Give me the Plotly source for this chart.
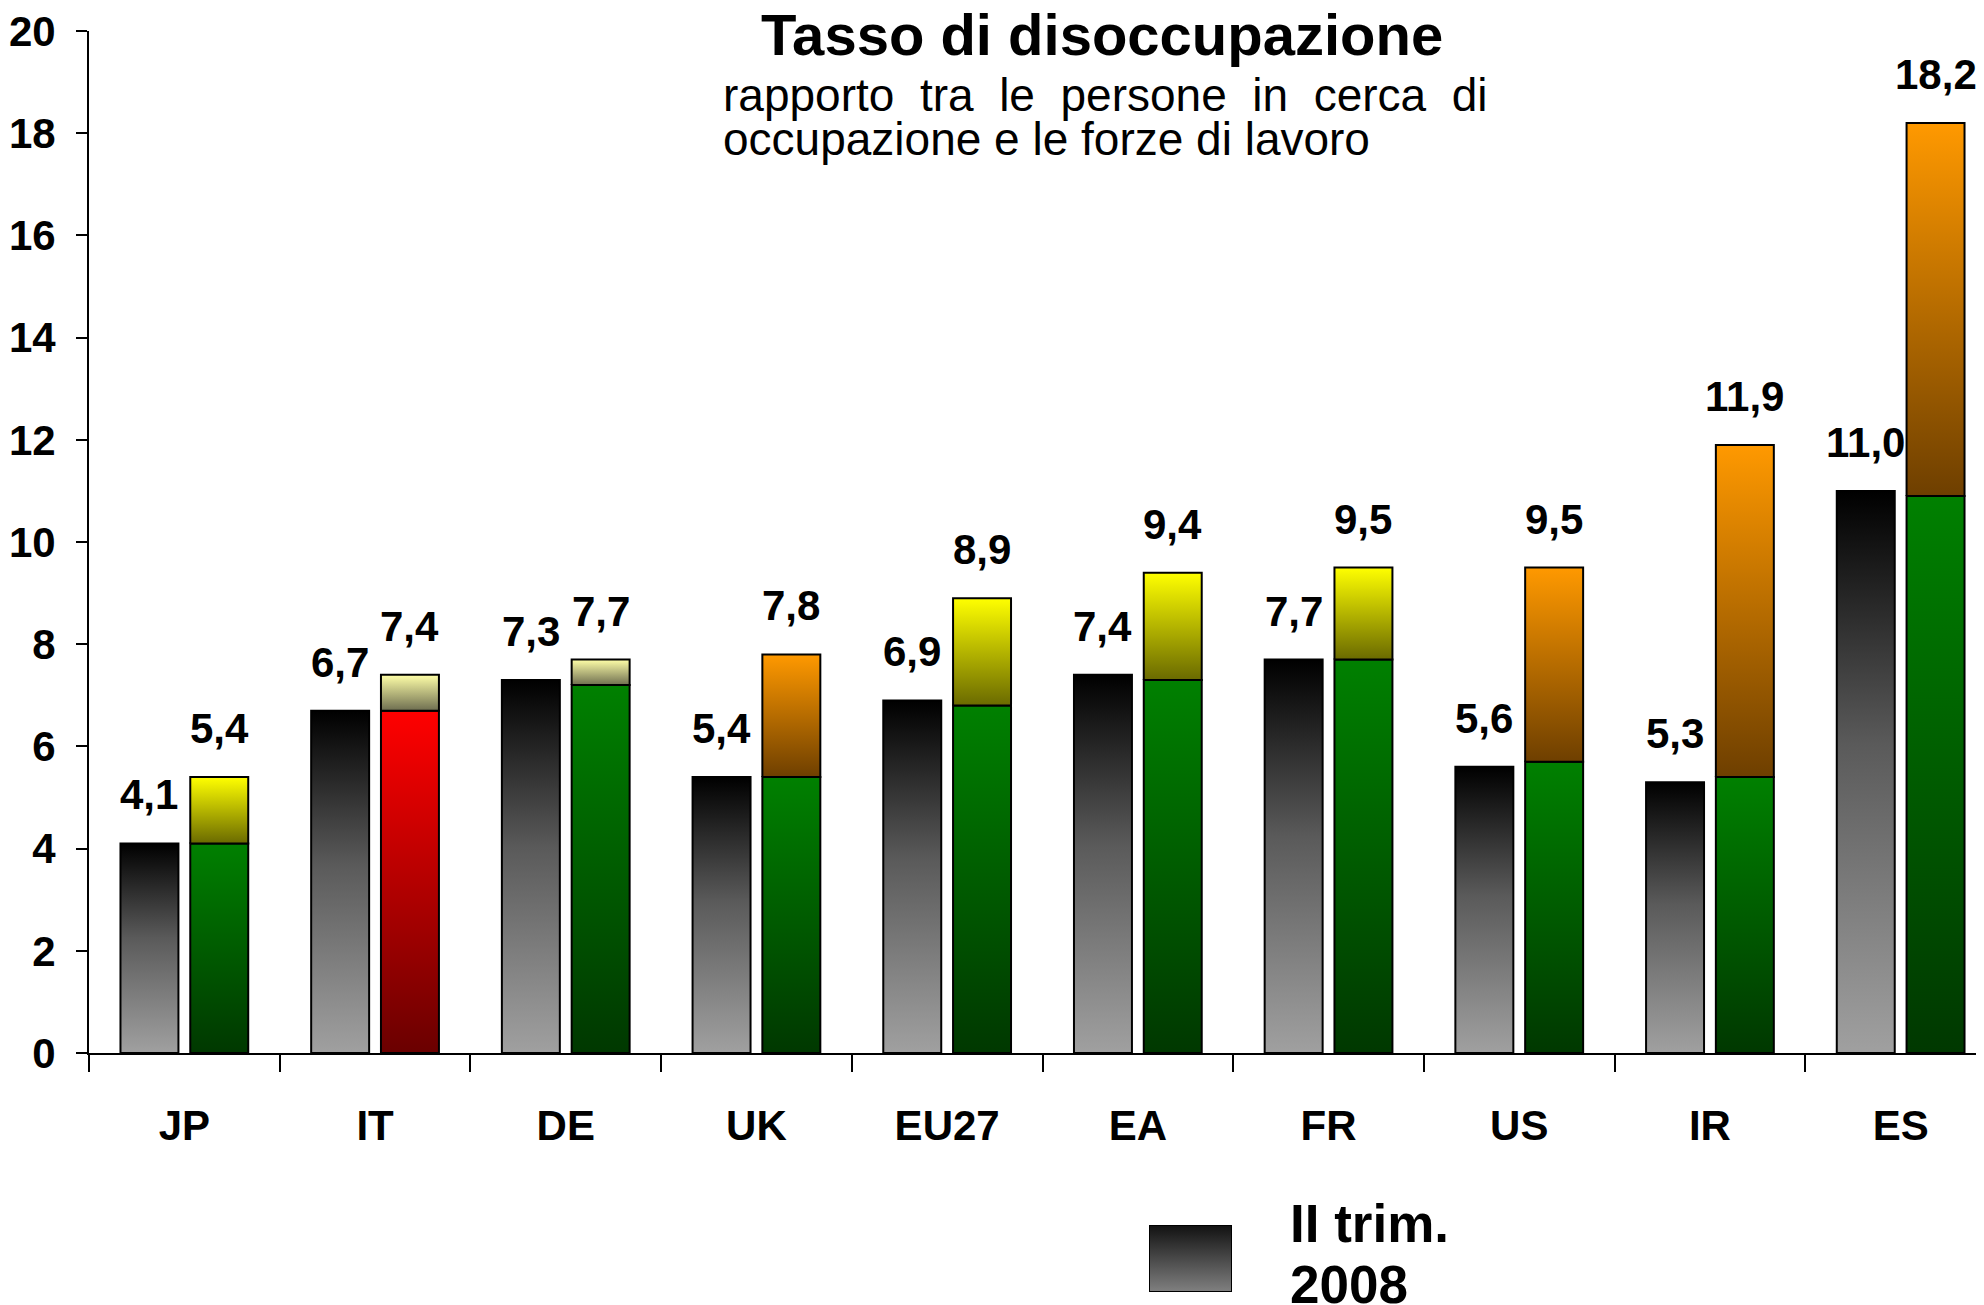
import plotly.graph_objects as go

# dati
paesi = ['JP', 'IT', 'DE', 'UK', 'EU27', 'EA', 'FR', 'US', 'IR', 'ES']
trim2_2008 = [4.1, 6.7, 7.3, 5.4, 6.9, 7.4, 7.7, 5.6, 5.3, 11.0]
base_ultimo = [4.1, 6.7, 7.2, 5.4, 6.8, 7.3, 7.7, 5.7, 5.4, 10.9]
ultimo = [5.4, 7.4, 7.7, 7.8, 8.9, 9.4, 9.5, 9.5, 11.9, 18.2]

# stile delle barre
colore_base = ['verde', 'rosso', 'verde', 'verde', 'verde', 'verde', 'verde', 'verde', 'verde', 'verde']
colore_incr = ['giallo', 'chiaro', 'chiaro', 'arancio', 'giallo', 'giallo', 'giallo', 'arancio', 'arancio', 'arancio']
SCALE = {
    'grigio': [[0, '#a0a0a0'], [0.55, '#5a5a5a'], [1, '#000000']],
    'verde': [[0, '#003800'], [1, '#008000']],
    'rosso': [[0, '#6a0000'], [1, '#ff0000']],
    'giallo': [[0, '#6a6a00'], [1, '#ffff00']],
    'chiaro': [[0, '#6e6e50'], [1, '#ffffa8']],
    'arancio': [[0, '#6e3f00'], [1, '#ff9900']],
    'legenda': [[0, '#808080'], [1, '#111111']],
}

# la pagina ha 8px di margine sul body
PAG = 8
W, H = 1984 - PAG, 1305 - PAG
ML, MT = 89 - PAG, 31 - PAG
OFF = 0.183
HALF_W = 0.152
ARIAL = 'Liberation Sans, Arial, sans-serif'
NUM_FONT = dict(family=ARIAL, size=42, color='black', weight='bold')


def px_x(xp):
    return (xp - PAG - ML) / (W - ML)


def px_y(yp):
    return (H - (yp - PAG)) / (H - MT)


def barra(xc, y0, y1, scala, xa='x', ya='y', hw=HALF_W):
    x0, x1 = xc - hw, xc + hw
    return go.Scatter(x=[x0, x1, x1, x0, x0], y=[y0, y0, y1, y1, y0], mode='lines', fill='toself',
                      fillgradient=dict(type='vertical', colorscale=SCALE[scala], start=y0, stop=y1),
                      line=dict(color='black', width=2), xaxis=xa, yaxis=ya,
                      hoverinfo='skip', showlegend=False)


def etichetta(v):
    return f"{v:.1f}".replace('.', ',')


fig = go.Figure()
ann = []
for i, p in enumerate(paesi):
    fig.add_trace(barra(i - OFF, 0, trim2_2008[i], 'grigio'))
    fig.add_trace(barra(i + OFF, 0, base_ultimo[i], colore_base[i]))
    fig.add_trace(barra(i + OFF, base_ultimo[i], ultimo[i], colore_incr[i]))
    for xv, v in [(i - OFF, trim2_2008[i]), (i + OFF, ultimo[i])]:
        ann.append(dict(x=xv, y=v, xref='x', yref='y', text=etichetta(v), showarrow=False,
                        xanchor='center', yanchor='bottom', yshift=23, font=NUM_FONT))

# riquadro legenda
fig.add_trace(barra(0.5, 0, 1, 'legenda', xa='x2', ya='y2', hw=0.5))

ann += [
    dict(x=px_x(1102), y=px_y(56 + 13), xref='paper', yref='paper', text='Tasso di disoccupazione',
         showarrow=False, xanchor='center', yanchor='bottom',
         font=dict(family=ARIAL, size=58, color='black', weight='bold')),
    dict(x=px_x(721), y=px_y(112 + 11), xref='paper', yref='paper',
         text='rapporto\u00a0\u00a0tra\u00a0\u00a0le\u00a0\u00a0persone\u00a0\u00a0in\u00a0\u00a0cerca\u00a0\u00a0di',
         showarrow=False, xanchor='left', yanchor='bottom',
         font=dict(family=ARIAL, size=46, color='black')),
    dict(x=px_x(721), y=px_y(156 + 11), xref='paper', yref='paper',
         text='occupazione e le forze di lavoro',
         showarrow=False, xanchor='left', yanchor='bottom',
         font=dict(family=ARIAL, size=46, color='black')),
    dict(x=px_x(1288), y=px_y(1243 + 12), xref='paper', yref='paper', text='II trim.',
         showarrow=False, xanchor='left', yanchor='bottom',
         font=dict(family=ARIAL, size=53, color='black', weight='bold')),
    dict(x=px_x(1288), y=px_y(1304 + 12), xref='paper', yref='paper', text='2008',
         showarrow=False, xanchor='left', yanchor='bottom',
         font=dict(family=ARIAL, size=53, color='black', weight='bold')),
]

fig.update_layout(
    width=W, height=H,
    margin=dict(l=ML, r=0, t=MT, b=0, autoexpand=False),
    plot_bgcolor='white', paper_bgcolor='white',
    showlegend=False,
    annotations=ann,
    xaxis=dict(range=[-0.5, -0.5 + (W - ML) / 190.7], tickmode='array', tickvals=list(range(len(paesi))),
               ticktext=paesi, ticks='', showline=True, linecolor='black', linewidth=2,
               showgrid=False, zeroline=False, ticklabelstandoff=35, tickfont=NUM_FONT,
               ticklabeloverflow='allow',
               minor=dict(tickmode='array', tickvals=[i - 0.5 for i in range(len(paesi) + 1)],
                          ticks='outside', ticklen=17, tickwidth=2, tickcolor='black', showgrid=False),
               fixedrange=True),
    yaxis=dict(domain=[px_y(1053), 1], range=[0, 20], tickmode='array', tickvals=list(range(0, 21, 2)),
               ticks='outside', ticklen=11, tickwidth=2, tickcolor='black',
               showline=True, linecolor='black', linewidth=2, showgrid=False, zeroline=False,
               ticklabelstandoff=12, tickfont=NUM_FONT, ticklabeloverflow='allow', fixedrange=True),
    xaxis2=dict(domain=[px_x(1149), px_x(1232)], range=[0, 1], visible=False, anchor='y2'),
    yaxis2=dict(domain=[px_y(1292), px_y(1225)], range=[0, 1], visible=False, anchor='x2'),
)

fig.write_html("out.html")
